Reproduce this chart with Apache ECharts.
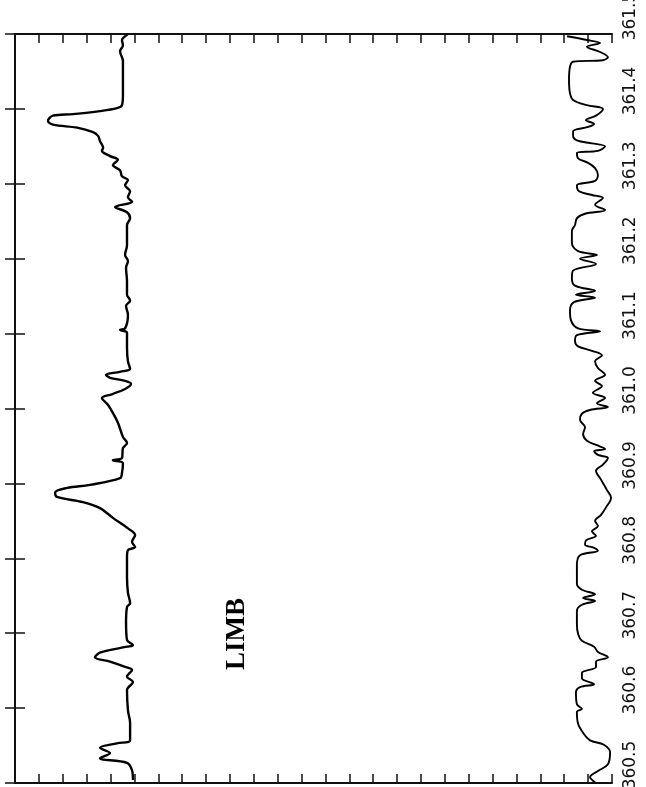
<!DOCTYPE html>
<html>
<head>
<meta charset="utf-8">
<script src="https://cdn.jsdelivr.net/npm/echarts@6/dist/echarts.min.js"></script>
<style>
html,body{margin:0;padding:0;background:#fff;}
#chart{width:646px;height:787px;}
</style>
</head>
<body>
<div id="chart"></div>
<script>
// Wavelength axis (runs bottom -> top), tick labels
var waveTicks = ['360.5','360.6','360.7','360.8','360.9','361.0','361.1','361.2','361.3','361.4','361.5'];

// LIMB spectrum: wavelength and relative intensity
var limbWave = [360.504,360.517,360.527,360.533,360.540,360.547,360.553,360.557,360.580,360.597,
360.624,360.635,360.642,360.651,360.655,360.662,360.668,360.674,360.682,360.684,
360.691,360.714,360.735,360.740,360.754,360.775,360.802,360.811,360.815,360.822,
360.831,360.840,360.854,360.867,360.875,360.882,360.888,360.894,360.898,360.907,
360.914,360.927,360.931,360.934,360.947,360.954,360.962,360.981,360.994,361.005,
361.014,361.019,361.026,361.033,361.037,361.041,361.045,361.049,361.053,361.063,
361.081,361.101,361.105,361.107,361.125,361.137,361.144,361.152,361.170,361.188,
361.197,361.205,361.218,361.245,361.254,361.262,361.269,361.276,361.282,361.290,
361.298,361.305,361.310,361.318,361.325,361.332,361.337,
361.344,361.348,361.357,361.364,361.369,361.375,361.379,361.384,361.391,361.393,
361.397,361.401,361.405,361.419,361.464,361.477,361.485,361.492,361.497,361.500];
var limbInt = [4.94,4.90,4.69,3.56,3.98,3.56,4.27,4.82,4.82,4.73,
4.69,4.94,4.69,4.90,4.61,3.98,3.35,3.56,4.69,4.94,
4.69,4.65,4.69,4.82,4.73,4.69,4.69,4.73,5.03,4.90,
5.03,4.73,4.10,3.56,2.85,1.76,1.68,2.18,3.14,4.40,
4.48,4.52,4.10,4.48,4.52,4.69,4.52,4.31,4.10,3.89,
3.64,4.06,4.61,4.86,4.61,3.98,3.81,4.40,4.82,4.73,
4.69,4.69,4.40,4.61,4.73,4.65,4.82,4.69,4.69,4.65,
4.73,4.61,4.69,4.69,4.82,4.69,4.19,4.90,4.73,4.82,
4.61,4.73,4.48,4.40,4.10,4.31,3.98,
3.64,3.69,3.56,3.48,3.27,2.60,1.59,1.38,1.59,2.43,
3.56,4.27,4.48,4.52,4.52,4.40,4.52,4.48,4.61,4.73];

// Second (disk) spectrum: wavelength and relative intensity
var diskWave = [360.501,360.508,360.516,360.525,360.541,360.551,360.557,360.567,360.579,360.595,
360.599,360.605,360.621,360.628,360.632,360.640,360.647,360.655,360.662,360.668,
360.675,360.682,360.690,360.699,360.712,360.730,360.738,360.743,360.747,360.752,
360.758,360.766,360.791,360.804,360.810,360.814,360.818,360.824,360.830,360.836,
360.843,360.850,360.858,360.868,360.881,360.891,360.905,360.917,360.925,360.934,
360.938,360.943,360.946,360.951,360.957,360.966,360.975,360.985,360.993,360.998,
361.002,361.007,361.014,361.021,361.030,361.037,361.045,361.054,361.063,361.071,
361.077,361.083,361.090,361.098,361.103,361.107,361.118,361.131,361.142,361.148,
361.152,361.157,361.164,361.174,361.184,361.193,361.200,361.205,361.210,361.221,
361.237,361.245,361.254,361.260,361.265,361.272,361.281,361.285,361.290,361.298,
361.304,361.312,361.321,361.328,361.334,361.341,361.344,361.350,361.354,361.358,
361.364,361.370,361.376,361.380,361.385,361.391,361.400,361.405,361.412,361.421,
361.439,361.456,361.463,361.465,361.469,361.476,361.483,361.488,361.492,361.497];
var diskInt = [24.29,24.08,24.41,24.83,24.92,24.66,24.08,23.79,23.58,23.53,
23.74,23.53,23.49,23.66,24.25,23.74,23.74,24.33,24.33,24.83,
24.41,24.25,23.74,23.58,23.53,23.53,23.74,24.29,23.79,24.29,
23.74,23.53,23.53,23.66,24.41,24.25,23.87,23.91,24.33,24.16,
24.41,24.29,24.54,24.75,24.96,24.79,24.54,24.33,24.62,24.83,
24.41,24.25,24.71,24.37,23.95,23.79,23.87,23.66,23.74,24.08,
24.83,24.37,24.71,24.20,24.58,24.29,24.71,24.41,24.29,24.58,
24.16,23.58,23.45,23.53,24.50,23.58,23.28,23.24,23.41,24.29,
23.49,24.29,23.45,23.32,23.37,24.33,23.66,24.37,23.58,23.32,
23.32,23.45,23.53,23.87,24.71,24.29,24.62,24.16,23.62,23.53,
24.29,24.41,24.29,24.00,23.58,23.53,24.41,24.71,24.16,23.53,
23.37,23.37,24.00,24.25,23.91,24.33,24.62,23.95,23.37,23.24,
23.20,23.24,23.37,24.62,24.83,24.50,23.95,24.50,23.95,23.12];

var annotation = 'LIMB';

function pairs(w, v) {
  var out = [];
  for (var i = 0; i < w.length; i++) out.push([v[i], w[i]]);
  return out;
}

var chart = echarts.init(document.getElementById('chart'), null, {renderer: 'canvas'});

var xAxisBase = {
  type: 'value', min: 0, max: 25, interval: 1,
  axisLine: {show: true, lineStyle: {color: '#111', width: 2}},
  axisTick: {show: true, inside: true, length: 9, lineStyle: {color: '#111', width: 1.5}},
  axisLabel: {show: false},
  splitLine: {show: false}
};

var option = {
  animation: false,
  backgroundColor: '#fff',
  grid: {left: 15, right: 34, top: 34, bottom: 4, containLabel: false, outerBoundsMode: 'none'},
  xAxis: [
    Object.assign({}, xAxisBase, {position: 'bottom'}),
    Object.assign({}, xAxisBase, {position: 'top'})
  ],
  yAxis: [
    {
      type: 'value', position: 'left', min: 360.5, max: 361.5, interval: 0.1,
      axisLine: {show: true, lineStyle: {color: '#111', width: 2}},
      axisTick: {show: true, inside: true, length: 10, lineStyle: {color: '#111', width: 1.5}},
      axisLabel: {show: false},
      splitLine: {show: false}
    },
    {
      type: 'value', position: 'right', min: 360.5, max: 361.5, interval: 0.1,
      axisLine: {show: true, lineStyle: {color: '#111', width: 1.5, type: [7, 4]}},
      axisTick: {show: true, inside: true, length: 10, lineStyle: {color: '#111', width: 1.5}},
      axisLabel: {
        show: true, rotate: 90, margin: 10,
        fontFamily: 'DejaVu Sans', fontSize: 17, color: '#111',
        padding: [0, 0, 0, 36],
        showMinLabel: true, showMaxLabel: true,
        formatter: function (val) {
          var idx = Math.round((val - 360.5) * 10);
          return waveTicks[idx] !== undefined ? waveTicks[idx] : '';
        }
      },
      splitLine: {show: false}
    }
  ],
  series: [
    {
      name: 'LIMB', type: 'line', xAxisIndex: 0, yAxisIndex: 0,
      data: pairs(limbWave, limbInt),
      showSymbol: false, smooth: 0.35,
      lineStyle: {color: '#000', width: 2.4}
    },
    {
      name: 'DISK', type: 'line', xAxisIndex: 0, yAxisIndex: 0,
      data: pairs(diskWave, diskInt),
      showSymbol: false, smooth: 0.35,
      lineStyle: {color: '#000', width: 1.9}
    }
  ],
  graphic: [
    {
      type: 'text', left: 224, top: 598,
      rotation: Math.PI / 2,
      style: {
        text: annotation,
        font: 'bold 27px "Liberation Serif", "DejaVu Serif", serif',
        fill: '#000'
      }
    }
  ]
};
chart.setOption(option);
</script>
</body>
</html>
